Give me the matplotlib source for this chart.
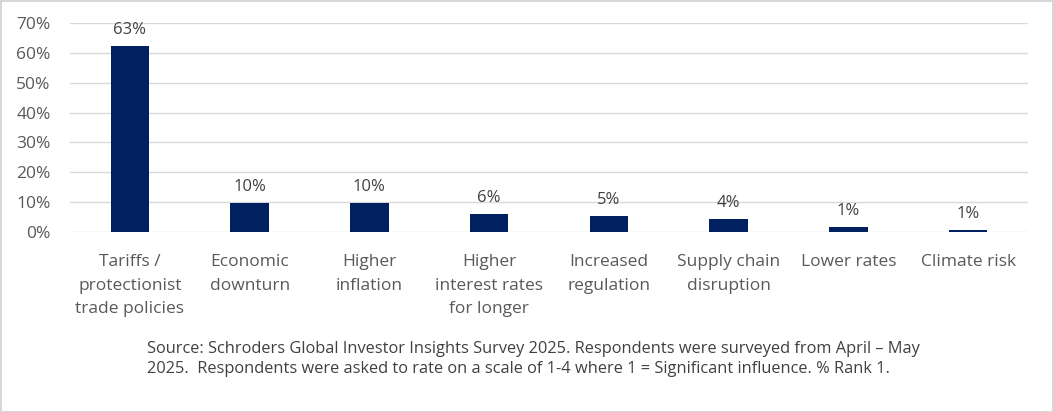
import matplotlib
matplotlib.use("Agg")
import matplotlib.pyplot as plt
from matplotlib.patches import Rectangle
from matplotlib.ticker import FuncFormatter

categories = ["Tariffs /\nprotectionist\ntrade policies", "Economic\ndownturn", "Higher\ninflation",
              "Higher\ninterest rates\nfor longer", "Increased\nregulation", "Supply chain\ndisruption",
              "Lower rates", "Climate risk"]
values = [62.3, 9.7, 9.8, 6.0, 5.5, 4.3, 1.8, 0.7]
value_labels = ["63%", "10%", "10%", "6%", "5%", "4%", "1%", "1%"]
yticks = [0, 10, 20, 30, 40, 50, 60, 70]
source = ("Source: Schroders Global Investor Insights Survey 2025. Respondents were surveyed from April \u2013 May\n"
          "2025.  Respondents were asked to rate on a scale of 1-4 where 1 = Significant influence. % Rank 1.")

plt.rcParams['font.family'] = ['Open Sans', 'DejaVu Sans']
W, H = 1054, 412
fig = plt.figure(figsize=(W/100, H/100), dpi=100)
fig.patches.append(Rectangle((0.5/W, 0.5/H), 1-1.5/W, 1-1.5/H, transform=fig.transFigure,
                             fill=False, edgecolor="#d0d0d0", linewidth=1.2))

ax = fig.add_axes([70/W, 1-232/H, 958/W, (232-23)/H])
x = range(len(categories))
ax.bar(x, values, width=0.32, color="#002060", zorder=3)
for xi, v, lab in zip(x, values, value_labels):
    ax.text(xi, v + 2.6, lab, ha="center", va="bottom", fontsize=12, color="#404040")
ax.set_xlim(-0.5, len(categories) - 0.5)
ax.set_ylim(0, 70)
ax.set_yticks(yticks)
ax.yaxis.set_major_formatter(FuncFormatter(lambda v, p: f"{v:.0f}%"))
ax.grid(axis="y", color="#d9d9d9", linewidth=1, zorder=0)
for s in ax.spines.values():
    s.set_visible(False)
ax.tick_params(axis="y", length=0, labelsize=12.5, colors="#595959", pad=14)
ax.tick_params(axis="x", length=0, labelsize=12.5, colors="#595959", pad=16)
ax.set_xticks(list(x))
ax.set_xticklabels(categories, linespacing=1.63, va="top")

fig.text(147/W, 1-341/H, source, ha="left", va="top", fontsize=11.8, color="#404040", linespacing=1.3)
fig.savefig("out.png", dpi=100)
